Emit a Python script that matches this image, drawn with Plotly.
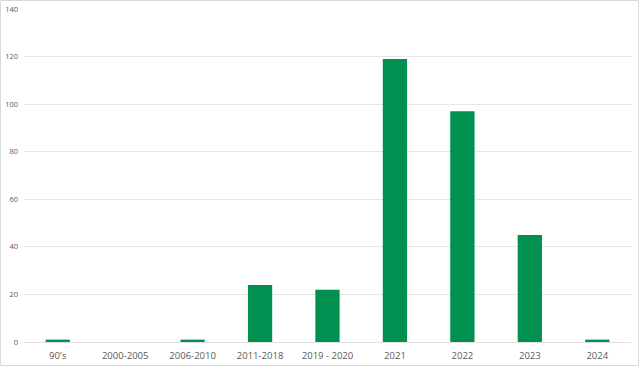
import plotly.graph_objects as go

categories = ["90's", "2000-2005", "2006-2010", "2011-2018", "2019 - 2020", "2021", "2022", "2023", "2024"]
values = [1, 0, 1, 24, 22, 119, 97, 45, 1]
y_ticks = [0, 20, 40, 60, 80, 100, 120, 140]

fig = go.Figure(go.Bar(x=categories, y=values, marker=dict(color="#009150", line=dict(width=0))))

W, H = 640, 367
ml, mr, mt, mb = 24, 9, 9, 25
fig.update_layout(
    width=W, height=H,
    margin=dict(l=ml, r=mr, t=mt, b=mb, autoexpand=False),
    paper_bgcolor="white", plot_bgcolor="white",
    bargap=0.64,
    showlegend=False,
    font=dict(family="Open Sans, Noto Sans, sans-serif", color="#595959"),
)
fig.update_xaxes(type="category", showgrid=False, showline=True, linecolor="#e0e0e0", linewidth=1,
                 ticks="", tickfont=dict(size=9.5), ticklabelstandoff=5, automargin=False)
fig.update_yaxes(range=[0, 140], tickvals=y_ticks, showgrid=True, gridcolor="#e6e6e6", gridwidth=1,
                 zeroline=False, showline=False, ticks="", tickfont=dict(size=7.5), ticklabelstandoff=5,
                 automargin=False)

pw = W - ml - mr
ph = H - mt - mb
fig.add_shape(type="rect", xref="paper", yref="paper",
              x0=(0.5 - ml) / pw, x1=(W - 1.5 - ml) / pw,
              y0=-(mb - 1.5) / ph, y1=1 + (mt - 0.5) / ph,
              line=dict(color="#d9d9d9", width=1), layer="below")

fig.write_html("out.html", config={"displayModeBar": False},
               post_script="document.body.style.margin='0';document.body.style.overflow='hidden';")
